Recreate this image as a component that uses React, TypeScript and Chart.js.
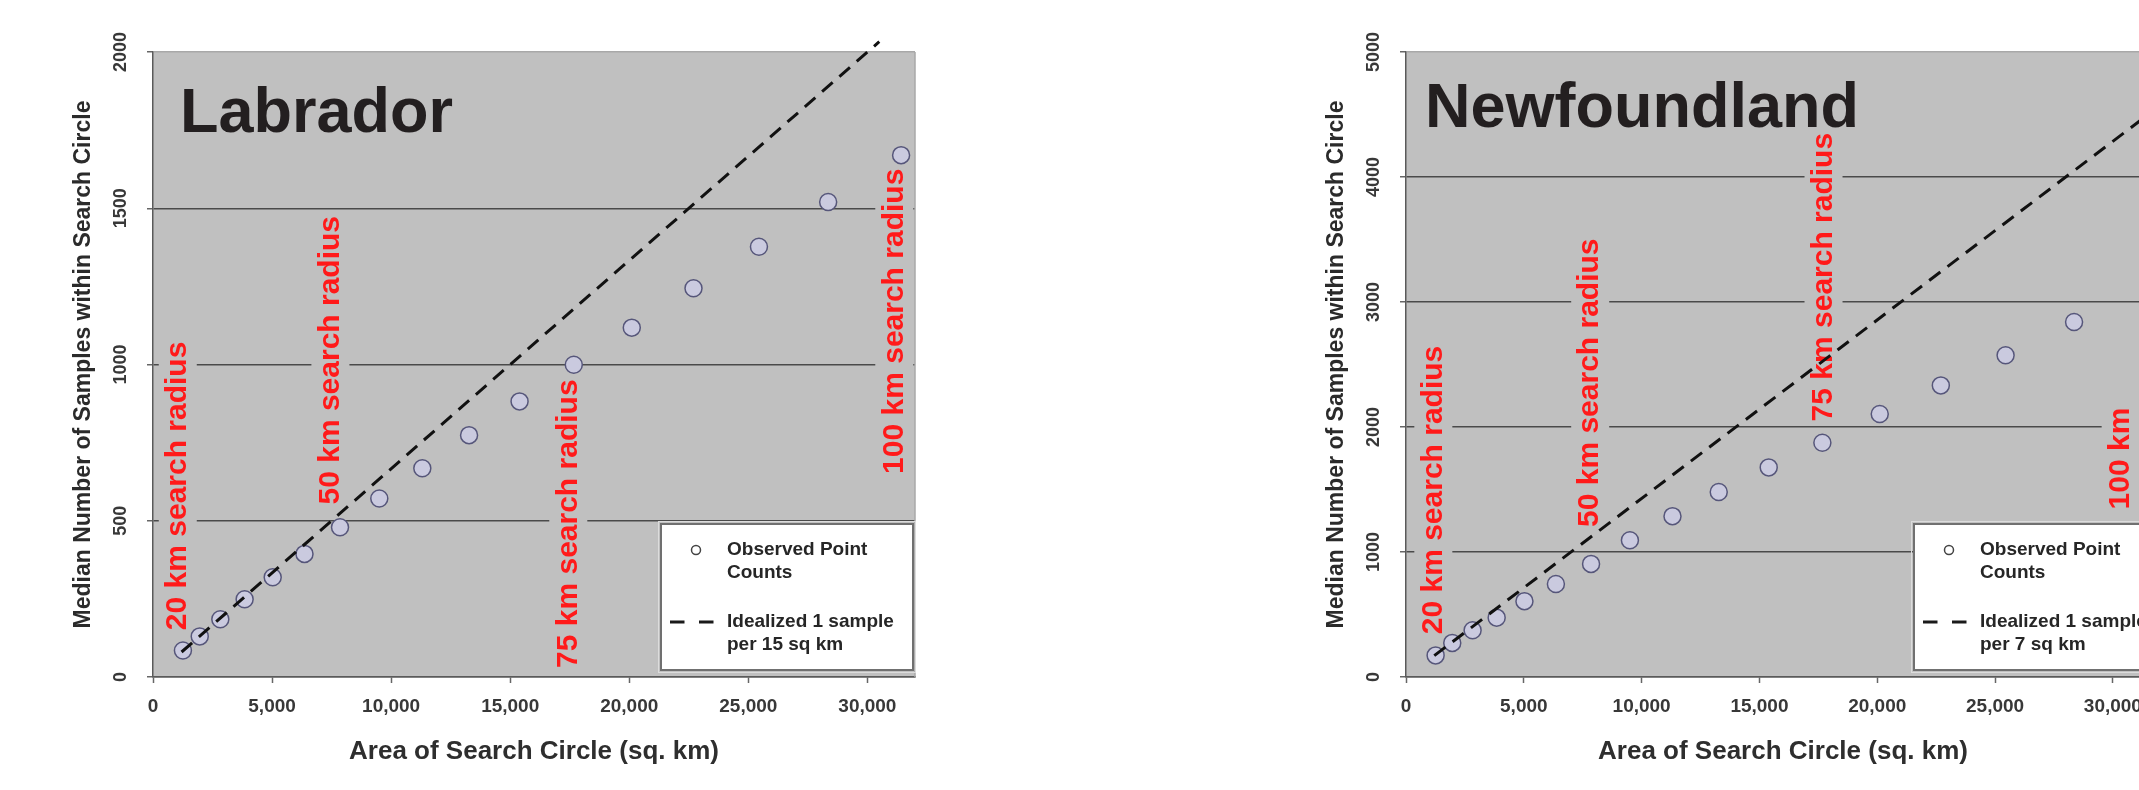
import React, { useEffect, useRef } from "react";
import { Chart, registerables } from "chart.js";

Chart.register(...registerables);

const FONT = "'Liberation Sans', Arial, Helvetica, sans-serif";

// ---- data ----
const searchAreaKm2 = [1257, 1963, 2827, 3848, 5027, 6362, 7854, 9503, 11310, 13273, 15394, 17671, 20106, 22698, 25447, 28353, 31416];
const labradorCounts = [85, 130, 185, 249, 319, 394, 479, 571, 668, 774, 882, 999, 1118, 1244, 1377, 1520, 1670];
// the 100 km point lies beyond the cropped right edge of the original figure
const newfoundlandCounts = [173, 273, 374, 475, 607, 744, 905, 1094, 1287, 1480, 1677, 1874, 2104, 2333, 2574, 2840];

const labradorIdealX = [1200, 30500];
const labradorIdealY = [80, 2033];
const newfoundlandIdealX = [1200, 31500];
const newfoundlandIdealY = [171, 4500];

const xTicks = [0, 5000, 10000, 15000, 20000, 25000, 30000];
const labradorYTicks = [0, 500, 1000, 1500, 2000];
const newfoundlandYTicks = [0, 1000, 2000, 3000, 4000, 5000];

const radiusLabels = ["20 km search radius", "50 km search radius", "75 km search radius", "100 km search radius"];
const labradorLabelX = [1040, 7450, 17440, 31130];
const labradorLabelY = [150, 552, 29, 650];
const labradorLabelClip = [0, 0, 0, 0];
const newfoundlandLabelX = [1160, 7817, 17720, 30330];
const newfoundlandLabelY = [342, 1200, 2045, 1341];
// value above which a label is hidden (0 = none); the last label is cut off in the original figure
const newfoundlandLabelClip = [0, 0, 0, 2190];

const legendObserved = ["Observed Point", "Counts"];
const legendIdealLabrador = ["Idealized 1 sample", "per 15 sq km"];
const legendIdealNewfoundland = ["Idealized 1 sample", "per 7 sq km"];

type Spec = {
  title: string;
  titleDx: number;
  titleDy: number;
  counts: number[];
  idealX: number[];
  idealY: number[];
  yTicks: number[];
  yMax: number;
  labelX: number[];
  labelY: number[];
  labelClip: number[];
  legendIdeal: string[];
};

const labrador: Spec = {
  title: "Labrador",
  titleDx: 27,
  titleDy: 80,
  counts: labradorCounts,
  idealX: labradorIdealX,
  idealY: labradorIdealY,
  yTicks: labradorYTicks,
  yMax: 2000,
  labelX: labradorLabelX,
  labelY: labradorLabelY,
  labelClip: labradorLabelClip,
  legendIdeal: legendIdealLabrador,
};

const newfoundland: Spec = {
  title: "Newfoundland",
  titleDx: 19,
  titleDy: 75,
  counts: newfoundlandCounts,
  idealX: newfoundlandIdealX,
  idealY: newfoundlandIdealY,
  yTicks: newfoundlandYTicks,
  yMax: 5000,
  labelX: newfoundlandLabelX,
  labelY: newfoundlandLabelY,
  labelClip: newfoundlandLabelClip,
  legendIdeal: legendIdealNewfoundland,
};

const PLOT_BG = "#c0c0c0";

function withCommas(v: number): string {
  const s = String(Math.round(v));
  return s.replace(/\B(?=(\d{3})+(?!\d))/g, ",");
}

function makeConfig(spec: Spec): any {
  const decor = {
    id: "decor",
    beforeDraw(chart: any) {
      const { ctx, chartArea: a } = chart;
      ctx.save();
      ctx.fillStyle = PLOT_BG;
      ctx.fillRect(a.left, a.top, a.right - a.left, a.bottom - a.top);
      ctx.restore();
    },
    beforeDatasetsDraw(chart: any) {
      const { ctx, chartArea: a, scales } = chart;
      const xs = scales.x;
      const ys = scales.y;
      ctx.save();
      // right border
      ctx.strokeStyle = "#a8a8a8";
      ctx.lineWidth = 1.5;
      ctx.beginPath();
      ctx.moveTo(a.right, a.top);
      ctx.lineTo(a.right, a.bottom);
      ctx.stroke();
      // panel title
      ctx.fillStyle = "#231f20";
      ctx.font = `bold 63px ${FONT}`;
      ctx.textAlign = "left";
      ctx.textBaseline = "alphabetic";
      ctx.fillText(spec.title, a.left + spec.titleDx, a.top + spec.titleDy);
      // red search radius labels
      ctx.font = `bold 30px ${FONT}`;
      radiusLabels.forEach((t, i) => {
        const cx = xs.getPixelForValue(spec.labelX[i]);
        const by = ys.getPixelForValue(spec.labelY[i]);
        const w = ctx.measureText(t).width;
        let topY = by - w - 4;
        ctx.save();
        if (spec.labelClip[i]) {
          const cy = ys.getPixelForValue(spec.labelClip[i]);
          topY = Math.max(topY, cy);
          ctx.beginPath();
          ctx.rect(cx - 30, cy, 60, by - cy + 10);
          ctx.clip();
        }
        ctx.fillStyle = PLOT_BG;
        ctx.fillRect(cx - 19, topY, 38, by + 4 - topY);
        ctx.translate(cx, by);
        ctx.rotate(-Math.PI / 2);
        ctx.fillStyle = "#ff1a1a";
        ctx.textAlign = "left";
        ctx.textBaseline = "middle";
        ctx.fillText(t, 0, 0);
        ctx.restore();
      });
      ctx.restore();
    },
    afterDatasetsDraw(chart: any) {
      const { ctx, chartArea: a } = chart;
      const L = a.left + 508;
      const T = a.bottom - 153;
      const W = 252;
      const H = 146;
      ctx.save();
      ctx.fillStyle = "#ffffff";
      ctx.fillRect(L, T, W, H);
      ctx.strokeStyle = "#dcdcdc";
      ctx.lineWidth = 1;
      ctx.strokeRect(L - 2.5, T - 2.5, W + 5, H + 5);
      ctx.strokeStyle = "#707070";
      ctx.lineWidth = 2;
      ctx.strokeRect(L, T, W, H);
      // observed symbol
      ctx.beginPath();
      ctx.arc(L + 35, T + 26, 4.5, 0, Math.PI * 2);
      ctx.fillStyle = "#ffffff";
      ctx.fill();
      ctx.strokeStyle = "#444";
      ctx.lineWidth = 1.5;
      ctx.stroke();
      // dashed symbol
      ctx.beginPath();
      ctx.setLineDash([14.5, 14.5]);
      ctx.moveTo(L + 9, T + 98);
      ctx.lineTo(L + 53, T + 98);
      ctx.strokeStyle = "#1a1a1a";
      ctx.lineWidth = 3;
      ctx.stroke();
      ctx.setLineDash([]);
      // text
      ctx.fillStyle = "#262626";
      ctx.font = `bold 19px ${FONT}`;
      ctx.textAlign = "left";
      ctx.textBaseline = "middle";
      ctx.fillText(legendObserved[0], L + 66, T + 26);
      ctx.fillText(legendObserved[1], L + 66, T + 49);
      ctx.fillText(spec.legendIdeal[0], L + 66, T + 98);
      ctx.fillText(spec.legendIdeal[1], L + 66, T + 121);
      ctx.restore();
    },
  };

  const tickFont = { family: FONT, size: 19, weight: "bold" as const };

  return {
    type: "scatter",
    data: {
      datasets: [
        {
          label: "Idealized",
          data: spec.idealX.map((x, i) => ({ x, y: spec.idealY[i] })),
          showLine: true,
          pointRadius: 0,
          borderColor: "#111111",
          borderWidth: 3,
          borderDash: [14, 9],
          tension: 0,
          clip: false,
        },
        {
          label: "Observed Point Counts",
          data: spec.counts.map((y, i) => ({ x: searchAreaKm2[i], y })),
          pointRadius: 8.5,
          pointBorderWidth: 1.5,
          pointBackgroundColor: "#cacadf",
          pointBorderColor: "#56567a",
          showLine: false,
        },
      ],
    },
    options: {
      responsive: false,
      devicePixelRatio: 1,
      animation: false,
      layout: { padding: { left: 0, right: 85, top: 52, bottom: 0 } },
      plugins: { legend: { display: false }, tooltip: { enabled: false } },
      scales: {
        x: {
          type: "linear",
          min: 0,
          max: 32000,
          afterBuildTicks: (s: any) => {
            s.ticks = xTicks.map((v) => ({ value: v }));
          },
          afterFit: (s: any) => {
            s.height = 113;
          },
          ticks: {
            autoSkip: false,
            maxRotation: 0,
            minRotation: 0,
            padding: 12,
            font: tickFont,
            color: "#383838",
            callback: (v: any) => withCommas(Number(v)),
          },
          grid: {
            drawOnChartArea: false,
            drawTicks: true,
            tickLength: 6,
            tickColor: "#666666",
            tickWidth: 1.5,
          },
          border: { display: true, color: "#5a5a5a", width: 1.5 },
          title: {
            display: true,
            text: "Area of Search Circle (sq. km)",
            font: { family: FONT, size: 26, weight: "bold" },
            color: "#2e2e2e",
            padding: { top: 0, bottom: 23 },
          },
        },
        y: {
          type: "linear",
          min: 0,
          max: spec.yMax,
          afterBuildTicks: (s: any) => {
            s.ticks = spec.yTicks.map((v) => ({ value: v }));
          },
          afterFit: (s: any) => {
            s.width = 153;
          },
          ticks: {
            autoSkip: false,
            minRotation: 90,
            maxRotation: 90,
            crossAlign: "center",
            padding: 6,
            font: { family: FONT, size: 18, weight: "bold" },
            color: "#383838",
            callback: (v: any) => String(v),
          },
          grid: {
            color: (c: any) => {
              const v = c.tick ? c.tick.value : 0;
              if (v === spec.yMax) return "#a8a8a8";
              if (v === 0) return "#5a5a5a";
              return "#4a4a4a";
            },
            lineWidth: 1.5,
            drawTicks: true,
            tickLength: 6,
            tickColor: "#666666",
            tickWidth: 1.5,
          },
          border: { display: true, color: "#5a5a5a", width: 1.5 },
          title: {
            display: true,
            text: "Median Number of Samples within Search Circle",
            font: { family: FONT, size: 23, weight: "bold" },
            color: "#2b2b2b",
            padding: { top: 70, bottom: 0 },
          },
        },
      },
    },
    plugins: [decor],
  };
}

function Panel({ spec, left, width }: { spec: Spec; left: number; width: number }) {
  const ref = useRef<HTMLCanvasElement | null>(null);
  useEffect(() => {
    if (!ref.current) return;
    const chart = new Chart(ref.current, makeConfig(spec));
    return () => chart.destroy();
  }, [spec]);
  return (
    <canvas
      ref={ref}
      width={width}
      height={790}
      style={{ position: "absolute", left, top: 0, width, height: 790 }}
    />
  );
}

export default function App() {
  return (
    <div
      style={{
        position: "absolute",
        left: 0,
        top: 0,
        width: 2139,
        height: 790,
        overflow: "hidden",
        background: "#ffffff",
      }}
    >
      <Panel spec={labrador} left={0} width={1000} />
      <Panel spec={newfoundland} left={1253} width={992} />
    </div>
  );
}
